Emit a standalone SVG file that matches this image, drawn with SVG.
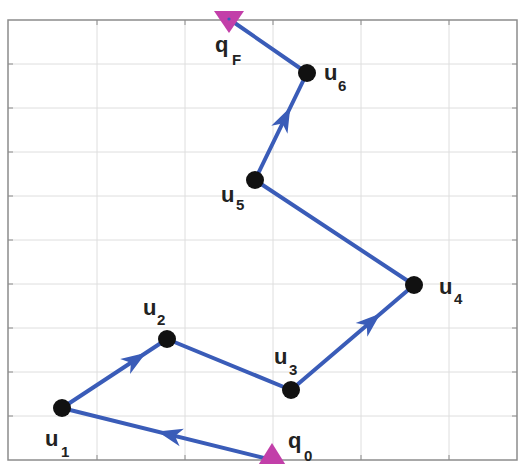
<svg xmlns="http://www.w3.org/2000/svg" xmlns:xlink="http://www.w3.org/1999/xlink" width="518" height="464" viewBox="0 0 518 464">
<style>
.grid{stroke:#dedede;stroke-width:1;fill:none}
.frame{stroke:#8c8c8c;stroke-width:1.5;fill:none}
.tick{stroke:#8c8c8c;stroke-width:1;fill:none}
.path{stroke:#3a5cb8;stroke-width:4;fill:none;stroke-linejoin:round}
.node{fill:#111}
.lbl{font-family:"Liberation Sans",Arial,sans-serif;font-weight:bold;font-size:22px;fill:#222}
.sub{font-family:"Liberation Sans",Arial,sans-serif;font-weight:bold;font-size:15px;fill:#222}
.ah{fill:#3a5cb8}
.tri{fill:#c23fa9}
</style>
<defs>
<path id="ah" d="M0,0 L-25,-9 L-18,0 L-25,9 Z"/>
</defs>
<rect x="0" y="0" width="518" height="464" fill="#fff"/>
<g id="axes">
<path class="grid" d="M97,20V460M185,20V460M273,20V460M361,20V460M449,20V460M8,64H517M8,108H517M8,152H517M8,196H517M8,240H517M8,284H517M8,328H517M8,372H517M8,416H517"/>
<path class="tick" d="M97,20v5M185,20v5M273,20v5M361,20v5M449,20v5M97,460v-5M185,460v-5M273,460v-5M361,460v-5M449,460v-5M8,64h5M8,108h5M8,152h5M8,196h5M8,240h5M8,284h5M8,328h5M8,372h5M8,416h5M517,64h-5M517,108h-5M517,152h-5M517,196h-5M517,240h-5M517,284h-5M517,328h-5M517,372h-5M517,416h-5"/>
<rect class="frame" x="8" y="20" width="509" height="440"/>
</g>
<g id="connectors">
<polyline class="path" points="272,460 62,408 167,339 291,390 414,285 255,180 307,73 229,19"/>
<use href="#ah" class="ah" transform="translate(157.5,431.6) rotate(193.9)"/>
<use href="#ah" class="ah" transform="translate(146,352.8) rotate(-33.3)"/>
<use href="#ah" class="ah" transform="translate(380.5,313.6) rotate(-40.5)"/>
<use href="#ah" class="ah" transform="translate(290.3,107.3) rotate(-64.1)"/>
</g>
<g id="q0">
<polygon class="tri" points="272,443 257,467 287,467"/>
<text class="lbl" x="288" y="448">q</text><text class="sub" x="304" y="461">0</text>
</g>
<g id="qF">
<polygon class="tri" points="214,11 244,11 229,33"/>
<circle cx="229" cy="19" r="1.6" fill="#3a5cb8"/>
<text class="lbl" x="215" y="52">q</text><text class="sub" x="232" y="65">F</text>
</g>
<g id="u1">
<circle class="node" cx="62" cy="408" r="9"/>
<text class="lbl" x="45" y="446">u</text><text class="sub" x="61" y="457">1</text>
</g>
<g id="u2">
<circle class="node" cx="167" cy="339" r="9"/>
<text class="lbl" x="143" y="315">u</text><text class="sub" x="157" y="325">2</text>
</g>
<g id="u3">
<circle class="node" cx="291" cy="390" r="9"/>
<text class="lbl" x="274" y="364">u</text><text class="sub" x="289" y="375">3</text>
</g>
<g id="u4">
<circle class="node" cx="414" cy="285" r="9"/>
<text class="lbl" x="439" y="294">u</text><text class="sub" x="454" y="304">4</text>
</g>
<g id="u5">
<circle class="node" cx="255" cy="180" r="9"/>
<text class="lbl" x="221" y="202">u</text><text class="sub" x="236" y="210">5</text>
</g>
<g id="u6">
<circle class="node" cx="307" cy="73" r="9"/>
<text class="lbl" x="324" y="80">u</text><text class="sub" x="338" y="91">6</text>
</g>
</svg>
